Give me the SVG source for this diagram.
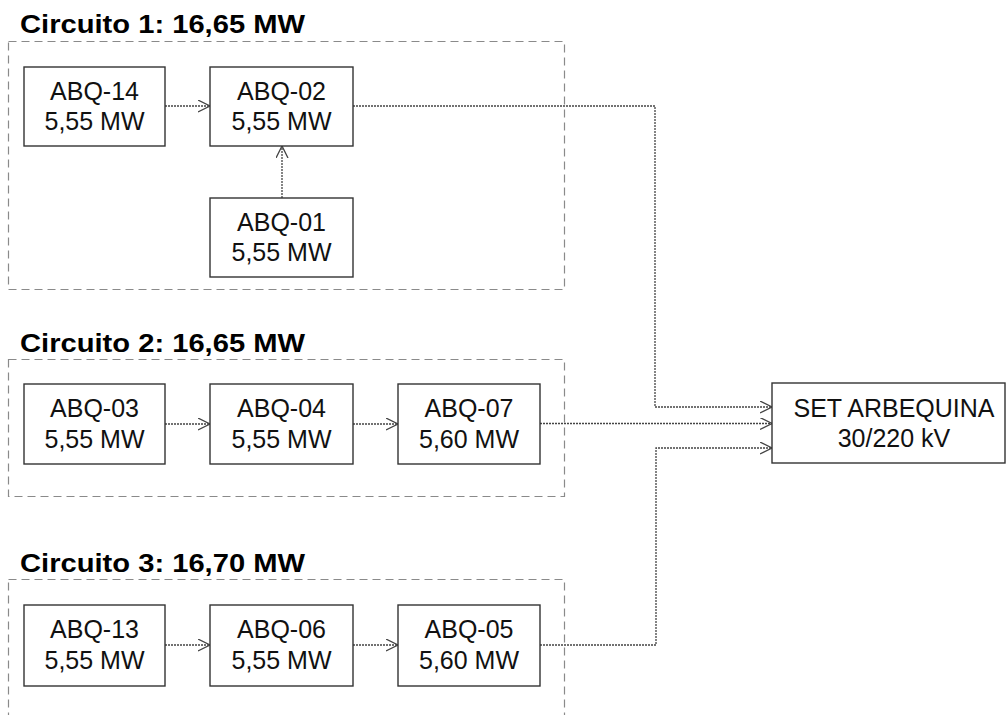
<svg xmlns="http://www.w3.org/2000/svg" width="1007" height="715" viewBox="0 0 1007 715">
<defs>
<style>
.circ{fill:none;stroke:#8a8a8a;stroke-width:1.2;stroke-dasharray:8 5}
.title{font-family:"Liberation Sans",Arial,sans-serif;font-weight:bold;font-size:26px;fill:#000}
.box{fill:#fff;stroke:#333;stroke-width:1.4}
.lbl{font-family:"Liberation Sans",Arial,sans-serif;font-size:25px;fill:#111;text-anchor:middle}
.wire{fill:none;stroke:#444;stroke-width:1.3;stroke-dasharray:2 1}
</style>
<marker id="arr" markerUnits="userSpaceOnUse" markerWidth="14" markerHeight="14" refX="12" refY="6" orient="auto">
<path d="M0,0 L12,6 L0,12" fill="none" stroke="#444" stroke-width="1.3"/>
</marker>
</defs>
<rect width="1007" height="715" fill="#fff"/>

<g id="circuito1">
<rect class="circ" x="8.5" y="41.5" width="556" height="248"/>
<text class="title" x="20" y="33" textLength="285" lengthAdjust="spacingAndGlyphs">Circuito 1: 16,65 MW</text>
</g>
<g id="circuito2">
<rect class="circ" x="8.5" y="359.5" width="556" height="137"/>
<text class="title" x="20" y="352" textLength="285" lengthAdjust="spacingAndGlyphs">Circuito 2: 16,65 MW</text>
</g>
<g id="circuito3">
<rect class="circ" x="8.5" y="579.5" width="556" height="145"/>
<text class="title" x="20" y="572" textLength="285" lengthAdjust="spacingAndGlyphs">Circuito 3: 16,70 MW</text>
</g>

<g id="connectors">
<path class="wire" d="M165,106 H210" marker-end="url(#arr)"/>
<path class="wire" d="M282,198 V146" marker-end="url(#arr)"/>
<path class="wire" d="M353,106 H655 V407 H772" marker-end="url(#arr)"/>
<path class="wire" d="M165,424 H210" marker-end="url(#arr)"/>
<path class="wire" d="M353,424 H398" marker-end="url(#arr)"/>
<path class="wire" d="M540,423.5 H772" marker-end="url(#arr)"/>
<path class="wire" d="M165,645 H210" marker-end="url(#arr)"/>
<path class="wire" d="M353,645 H398" marker-end="url(#arr)"/>
<path class="wire" d="M540,645 H656 V448 H772" marker-end="url(#arr)"/>
</g>

<g id="ABQ-14"><rect class="box" x="24" y="67" width="141" height="79"/><text class="lbl" x="94.5" y="100">ABQ-14</text><text class="lbl" x="94.5" y="130">5,55 MW</text></g>
<g id="ABQ-02"><rect class="box" x="210" y="67" width="143" height="79"/><text class="lbl" x="281.5" y="100">ABQ-02</text><text class="lbl" x="281.5" y="130">5,55 MW</text></g>
<g id="ABQ-01"><rect class="box" x="210" y="198" width="143" height="79"/><text class="lbl" x="281.5" y="231">ABQ-01</text><text class="lbl" x="281.5" y="261">5,55 MW</text></g>

<g id="ABQ-03"><rect class="box" x="24" y="384" width="141" height="80"/><text class="lbl" x="94.5" y="417">ABQ-03</text><text class="lbl" x="94.5" y="448">5,55 MW</text></g>
<g id="ABQ-04"><rect class="box" x="210" y="384" width="143" height="80"/><text class="lbl" x="281.5" y="417">ABQ-04</text><text class="lbl" x="281.5" y="448">5,55 MW</text></g>
<g id="ABQ-07"><rect class="box" x="398" y="384" width="142" height="80"/><text class="lbl" x="469" y="417">ABQ-07</text><text class="lbl" x="469" y="448">5,60 MW</text></g>

<g id="ABQ-13"><rect class="box" x="24" y="605" width="141" height="81"/><text class="lbl" x="94.5" y="638">ABQ-13</text><text class="lbl" x="94.5" y="669">5,55 MW</text></g>
<g id="ABQ-06"><rect class="box" x="210" y="605" width="143" height="81"/><text class="lbl" x="281.5" y="638">ABQ-06</text><text class="lbl" x="281.5" y="669">5,55 MW</text></g>
<g id="ABQ-05"><rect class="box" x="398" y="605" width="142" height="81"/><text class="lbl" x="469" y="638">ABQ-05</text><text class="lbl" x="469" y="669">5,60 MW</text></g>

<g id="SET"><rect class="box" x="772" y="383" width="233" height="80"/><text class="lbl" x="894" y="417">SET ARBEQUINA</text><text class="lbl" x="894" y="447">30/220 kV</text></g>
</svg>
